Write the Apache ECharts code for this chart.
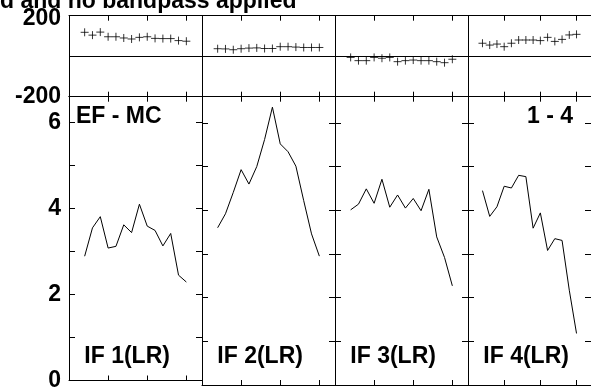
<!DOCTYPE html>
<html>
<head>
<meta charset="utf-8">
<script src="https://cdn.jsdelivr.net/npm/echarts@6.0.0/dist/echarts.min.js"></script>
<style>
  body { margin: 0; background: #fff; }
  #chart { width: 591px; height: 392px; }
</style>
</head>
<body>
<div id="chart"></div>
<script>
// channels plotted in every panel
const channels = [2, 3, 4, 5, 6, 7, 8, 9, 10, 11, 12, 13, 14, 15];

// phase (top row, crosses)
const phase1 = [118, 104, 119, 96, 96, 90, 85, 93, 96, 88, 87, 87, 77, 74];
const phase2 = [37, 36, 32, 37, 40, 41, 38, 38, 47, 47, 45, 43, 43, 43];
const phase3 = [-6, -22, -22, -6, -10, -6, -27, -22, -19, -22, -22, -27, -32, -15];
const phase4 = [64, 55, 60, 47, 64, 80, 80, 80, 77, 93, 73, 83, 105, 108];

// amplitude (bottom row, lines)
const amp1 = [2.89, 3.55, 3.81, 3.08, 3.12, 3.62, 3.44, 4.10, 3.59, 3.49, 3.13, 3.42, 2.45, 2.29];
const amp2 = [3.60, 3.92, 4.41, 4.93, 4.60, 5.00, 5.62, 6.36, 5.52, 5.34, 5.01, 4.22, 3.46, 2.95];
const amp3 = [4.01, 4.14, 4.49, 4.16, 4.71, 4.07, 4.35, 4.05, 4.27, 3.99, 4.48, 3.39, 2.92, 2.27];
const amp4 = [4.45, 3.86, 4.08, 4.55, 4.51, 4.80, 4.77, 3.59, 3.94, 3.08, 3.35, 3.31, 2.17, 1.18];

const ifLabels = ['IF 1(LR)', 'IF 2(LR)', 'IF 3(LR)', 'IF 4(LR)'];
const titleText = 'd and no bandpass applied';

const phases = [phase1, phase2, phase3, phase4];
const amps = [amp1, amp2, amp3, amp4];

const font = 'Liberation Sans, Arial, Helvetica, sans-serif';
const panelLeft = 69, panelW = 133;
const topY = 15.7, topH = 81, botY = 96.7, botH = 288.3;

let grids = [], xAxes = [], yAxes = [], series = [], graphics = [];

const axisLine = { show: true, onZero: false, lineStyle: { color: '#000', width: 1 } };
const tick = function(len) {
    return { show: true, inside: true, length: len, lineStyle: { color: '#000', width: 1 } };
};
const boldLabel = {
    fontSize: 23, fontWeight: 'bold', color: '#000', fontFamily: font, margin: 8
};

for (let row = 0; row < 2; row++) {
    for (let i = 0; i < 4; i++) {
        const g = grids.length;
        grids.push({
            left: panelLeft + panelW * i,
            top: row === 0 ? topY : botY,
            width: panelW,
            height: row === 0 ? topH : botH
        });
        // x axes bottom + top
        ['bottom', 'top'].forEach(function(pos) {
            xAxes.push({
                type: 'value', gridIndex: g, position: pos,
                min: 0, max: 17, interval: 5,
                axisLine: axisLine, axisTick: tick(5),
                axisLabel: { show: false }, splitLine: { show: false }
            });
        });
        // y axes left + right
        ['left', 'right'].forEach(function(pos) {
            const showLab = (i === 0 && pos === 'left');
            let y = {
                type: 'value', gridIndex: g, position: pos,
                axisLine: axisLine, axisTick: tick(6),
                splitLine: { show: false },
                axisLabel: Object.assign({ show: showLab }, boldLabel)
            };
            if (row === 0) {
                y.min = -200; y.max = 200; y.interval = 200;
                // top label sits a bit lower than its tick
                y.axisLabel.rich = { t: { padding: [6, 0, 0, 0] } };
                y.axisLabel.formatter = function(v) {
                    if (v === 0) return '';
                    return v > 0 ? '{t|' + v + '}' : String(v);
                };
            } else {
                y.min = 0; y.max = 6.6; y.interval = 1;
                y.axisLabel.formatter = function(v) {
                    return (Number.isInteger(v) && v % 2 === 0) ? String(v) : '';
                };
            }
            yAxes.push(y);
        });

        const xi = g * 2, yi = g * 2;
        if (row === 0) {
            series.push({
                type: 'scatter',
                xAxisIndex: xi, yAxisIndex: yi,
                symbol: 'path://M0,5L10,5M5,0L5,10',
                symbolSize: 8,
                itemStyle: { color: 'none', borderColor: '#000', borderWidth: 1 },
                data: channels.map((c, j) => [c, phases[i][j]]),
                markLine: {
                    silent: true, symbol: 'none', label: { show: false },
                    lineStyle: { color: '#000', width: 1, type: 'solid' },
                    data: [{ yAxis: 0 }]
                }
            });
        } else {
            series.push({
                type: 'line',
                xAxisIndex: xi, yAxisIndex: yi,
                symbol: 'none',
                lineStyle: { color: '#000', width: 1 },
                data: channels.map((c, j) => [c, amps[i][j]])
            });
            graphics.push({
                type: 'text', left: panelLeft + panelW * i + 15.3, top: 345,
                style: { text: ifLabels[i], font: 'bold 23px ' + font, fill: '#000' }
            });
        }
    }
}

// corner labels and cut title
graphics.push({
    type: 'text', left: 76, top: 105,
    style: { text: 'EF - MC', font: 'bold 23px ' + font, fill: '#000' }
});
graphics.push({
    type: 'text', left: 527, top: 105,
    style: { text: '1 - 4', font: 'bold 23px ' + font, fill: '#000' }
});
graphics.push({
    type: 'text', left: 0, top: -10,
    style: { text: titleText, font: 'bold 23px ' + font, fill: '#000' }
});

const chart = echarts.init(document.getElementById('chart'), null, { renderer: 'canvas' });
chart.setOption({
    animation: false,
    backgroundColor: '#fff',
    grid: grids,
    xAxis: xAxes,
    yAxis: yAxes,
    series: series,
    graphic: graphics
});
</script>
</body>
</html>
